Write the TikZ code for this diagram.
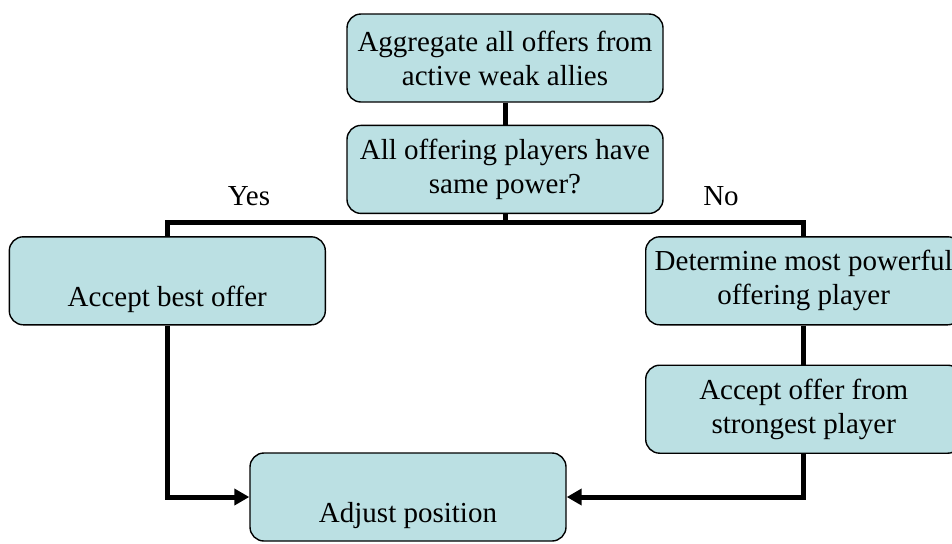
\documentclass[tikz,border=0pt]{standalone}
\usepackage{fontspec}
\setmainfont{Liberation Serif}
\usepackage{tikz}
\usetikzlibrary{arrows.meta,positioning}
\definecolor{boxfill}{RGB}{187,224,227}

\begin{document}
\begin{tikzpicture}[x=0.5pt,y=-0.5pt,
    stepbox/.style={draw,rounded corners=7pt,fill=boxfill,line width=0.7pt,
      minimum width=158pt,minimum height=44pt,align=center,inner sep=1pt},
    conn/.style={line width=2.5pt},
    flow/.style={conn,-{Triangle[length=7.5pt,width=8pt]}}]
      \fontsize{14.5}{17}\selectfont
      \useasboundingbox (0,0) rectangle (952,543);

      % Top: gather and test
      \node[stepbox] (agg) at (505,58) {Aggregate all offers from\\active weak allies};
      \node[stepbox,below=11pt of agg] (same) {All offering players have\\same power?};
      \coordinate (split) at (505,222);

      % Left branch: yes
      \node[stepbox,below left=11pt and 89.5pt of same.south] (best) {\strut\\Accept best offer};
      \node (yes) at (249,196) {Yes};

      % Right branch: no
      \node[stepbox,below right=11pt and 70pt of same.south] (most) {Determine most powerful\\offering player};
      \node[stepbox,below=19.5pt of most] (strong) {Accept offer from\\strongest player};
      \node (no) at (721,196) {No};

      % Bottom
      \node[stepbox] (adjust) at (408,497) {\strut\\Adjust position};

      \draw[conn] (agg) -- (same);
      \draw[conn] (same) -- (split);
      \draw[conn] (best.north) |- (split) -| (most.north);
      \draw[conn] (most) -- (strong);
      \draw[flow] (best.south) |- (adjust.west);
      \draw[flow] (strong.south) |- (adjust.east);

    \end{tikzpicture}
\end{document}
